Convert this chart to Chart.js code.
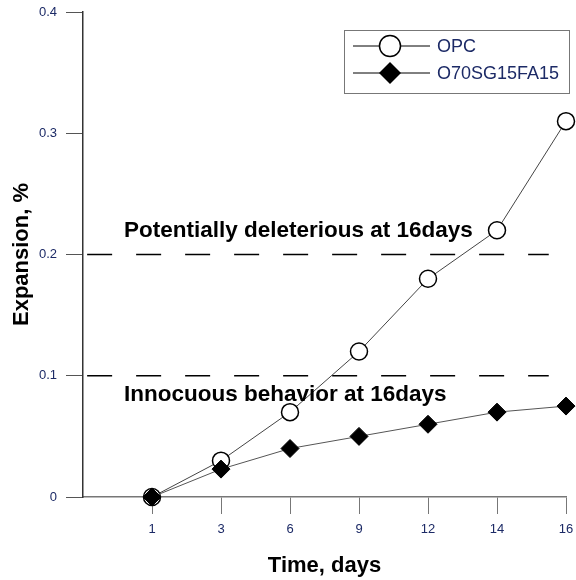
<!DOCTYPE html>
<html>
<head>
<meta charset="utf-8">
<script src="https://cdn.jsdelivr.net/npm/chart.js@4"></script>
<style>
  html, body { margin: 0; padding: 0; background: #fff; }
  #wrap { width: 576px; height: 580px; }
</style>
</head>
<body>
<div id="wrap"><canvas id="expChart" width="576" height="580"></canvas></div>
<script>
// ==================== DATA ====================
const days = ['1', '3', '6', '9', '12', '14', '16'];
const opc = [0, 0.03, 0.07, 0.12, 0.18, 0.22, 0.31];
const o70sg15fa15 = [0, 0.023, 0.04, 0.05, 0.06, 0.07, 0.075];
const yTicks = [0, 0.1, 0.2, 0.3, 0.4];
const limits = [0.2, 0.1];
const limitLabels = ['Potentially deleterious at 16days', 'Innocuous behavior at 16days'];
const seriesNames = ['OPC', 'O70SG15FA15'];

const LABEL_COLOR = '#1c2a66';
const FONT = 'Arial, "Liberation Sans", sans-serif';

// positions along the x scale: slot 0 is empty, days start at slot 1
const pts = arr => arr.map((v, i) => ({ x: i + 1, y: v }));
const limitLine = v => [{ x: 0.06, y: v }, { x: 6.75, y: v }];

// ==================== PLUGINS ====================
const limitText = {
  id: 'limitText',
  afterDatasetsDraw(chart) {
    const { ctx, scales: { y } } = chart;
    ctx.save();
    ctx.font = 'bold 22.5px ' + FONT;
    ctx.fillStyle = '#000';
    ctx.textBaseline = 'alphabetic';
    ctx.textAlign = 'left';
    ctx.fillText(limitLabels[0], 124, y.getPixelForValue(limits[0]) - 18);
    ctx.fillText(limitLabels[1], 124, y.getPixelForValue(limits[1]) + 25);
    ctx.restore();
  }
};

const boxLegend = {
  id: 'boxLegend',
  afterDraw(chart) {
    const { ctx } = chart;
    ctx.save();
    ctx.strokeStyle = '#777';
    ctx.lineWidth = 1;
    ctx.strokeRect(344.5, 30.5, 225, 63);
    const rows = [46, 73];
    rows.forEach((ry, i) => {
      ctx.strokeStyle = '#000';
      ctx.lineWidth = 1;
      ctx.beginPath();
      ctx.moveTo(353, ry);
      ctx.lineTo(430, ry);
      ctx.stroke();
      ctx.beginPath();
      if (i === 0) {
        ctx.arc(390, ry, 10.5, 0, Math.PI * 2);
        ctx.fillStyle = '#fff';
        ctx.fill();
        ctx.lineWidth = 1.5;
        ctx.stroke();
      } else {
        ctx.moveTo(390, ry - 11);
        ctx.lineTo(401, ry);
        ctx.lineTo(390, ry + 11);
        ctx.lineTo(379, ry);
        ctx.closePath();
        ctx.fillStyle = '#000';
        ctx.fill();
      }
      ctx.fillStyle = LABEL_COLOR;
      ctx.font = '18px ' + FONT;
      ctx.textBaseline = 'middle';
      ctx.fillText(seriesNames[i], 437, ry + 1);
    });
    ctx.restore();
  }
};

// ==================== CHART ====================
new Chart(document.getElementById('expChart'), {
  type: 'line',
  data: {
    datasets: [
      {
        label: seriesNames[0],
        data: pts(opc),
        borderColor: '#444',
        borderWidth: 1,
        pointStyle: 'circle',
        pointRadius: 8.5,
        pointBorderWidth: 1.5,
        pointBorderColor: '#000',
        pointBackgroundColor: '#fff',
        clip: false,
        order: 2
      },
      {
        label: seriesNames[1],
        data: pts(o70sg15fa15),
        borderColor: '#555',
        borderWidth: 1,
        pointStyle: 'rectRot',
        pointRadius: 9,
        pointBorderWidth: 1,
        pointBorderColor: '#000',
        pointBackgroundColor: '#000',
        clip: false,
        order: 1
      },
      {
        label: 'limit1',
        data: limitLine(limits[0]),
        borderColor: '#000',
        borderWidth: 1.3,
        borderDash: [25, 24],
        pointRadius: 0,
        order: 3
      },
      {
        label: 'limit2',
        data: limitLine(limits[1]),
        borderColor: '#000',
        borderWidth: 1.3,
        borderDash: [25, 24],
        pointRadius: 0,
        order: 3
      }
    ]
  },
  options: {
    responsive: false,
    animation: false,
    devicePixelRatio: 1,
    layout: { padding: { top: 12, right: 8, left: 0, bottom: 0 } },
    plugins: {
      legend: { display: false },
      tooltip: { enabled: false }
    },
    scales: {
      x: {
        type: 'linear',
        min: 0,
        max: 7,
        afterBuildTicks: s => { s.ticks = days.map((d, i) => ({ value: i + 1 })); },
        afterFit: s => { s.height = 83; s.paddingRight = 0; s.paddingLeft = 0; },
        ticks: {
          autoSkip: false,
          maxRotation: 0,
          padding: 0,
          color: LABEL_COLOR,
          font: { family: FONT, size: 13, lineHeight: 2.4 },
          callback: v => days[v - 1]
        },
        grid: { drawOnChartArea: false, drawTicks: true, tickLength: 17, color: '#777' },
        border: { display: true, color: '#777', width: 1.5 },
        title: {
          display: true,
          text: 'Time, days',
          color: '#000',
          font: { family: FONT, size: 22, weight: 'bold' },
          padding: { top: 0, bottom: 1 }
        }
      },
      y: {
        min: 0,
        max: 0.4,
        afterBuildTicks: s => { s.ticks = yTicks.map(v => ({ value: v })); },
        afterFit: s => { s.width = 83; s.paddingTop = 0; s.paddingBottom = 0; },
        ticks: {
          padding: 9,
          color: LABEL_COLOR,
          font: { family: FONT, size: 13 },
          callback: v => String(+v.toFixed(1))
        },
        grid: { drawOnChartArea: false, drawTicks: true, tickLength: 17, color: '#555' },
        border: { display: true, color: '#333', width: 1.5 },
        title: {
          display: true,
          text: 'Expansion, %',
          color: '#000',
          font: { family: FONT, size: 22, weight: 'bold' },
          padding: { top: 9, bottom: 0 }
        }
      }
    }
  },
  plugins: [limitText, boxLegend]
});
</script>
</body>
</html>
